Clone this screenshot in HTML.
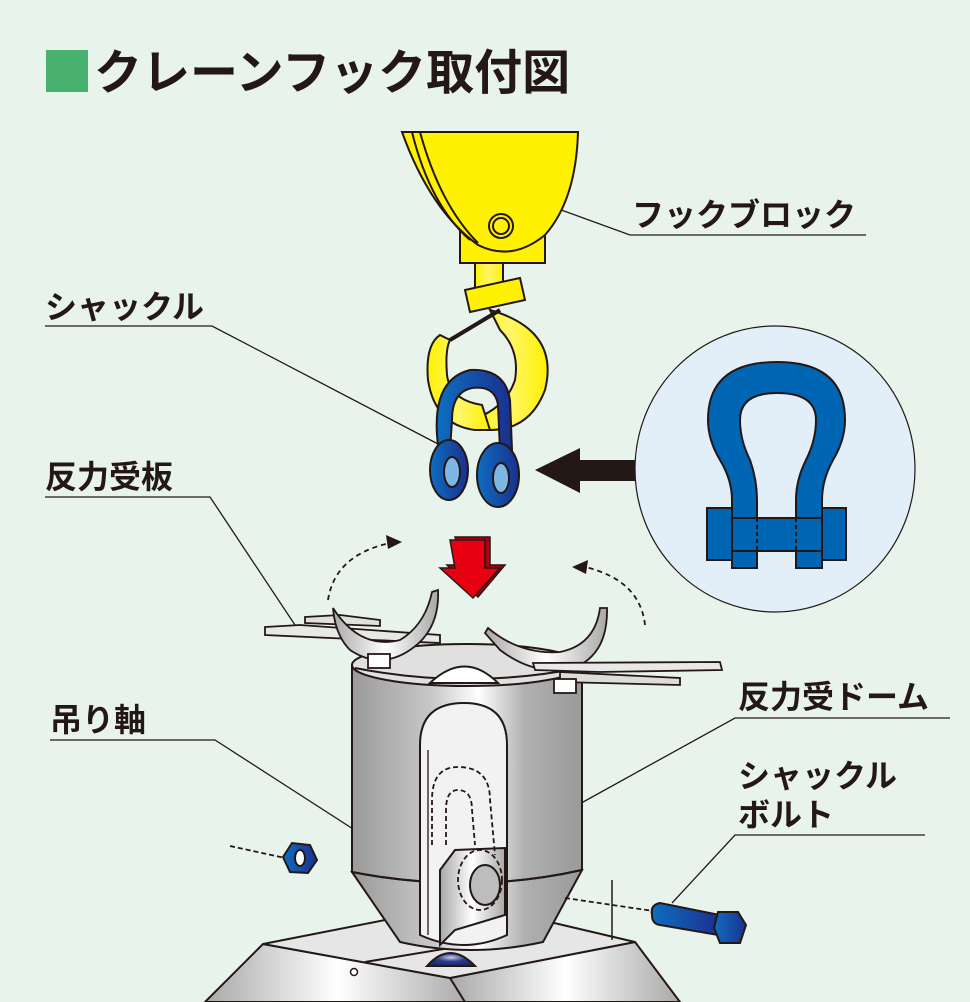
<!DOCTYPE html>
<html><head><meta charset="utf-8"><style>
html,body{margin:0;padding:0;background:#e8f3ec;}
svg{display:block}
text{font-family:"Liberation Sans","Noto Sans CJK JP",sans-serif;fill:#231815;}
</style></head><body>
<svg width="970" height="1002" viewBox="0 0 970 1002" xmlns="http://www.w3.org/2000/svg">
<defs>
<linearGradient id="cyl" x1="0" x2="1" y1="0" y2="0">
<stop offset="0" stop-color="#9a9a9a"/><stop offset="0.35" stop-color="#c8c8c8"/><stop offset="0.55" stop-color="#ffffff"/><stop offset="0.75" stop-color="#b0b0b0"/><stop offset="1" stop-color="#9a9a9a"/></linearGradient>
<linearGradient id="met" x1="0" x2="1" y1="0" y2="0">
<stop offset="0" stop-color="#a8a8a8"/><stop offset="0.5" stop-color="#ffffff"/><stop offset="1" stop-color="#a8a8a8"/></linearGradient>
<linearGradient id="yel" x1="0" x2="1"><stop offset="0" stop-color="#fff100"/><stop offset="0.5" stop-color="#fff66a"/><stop offset="1" stop-color="#fff100"/></linearGradient>
<linearGradient id="blu" x1="0" x2="1"><stop offset="0" stop-color="#0e6ec0"/><stop offset="1" stop-color="#1b2f8e"/></linearGradient>
<radialGradient id="dome" cx="0.5" cy="0.35" r="0.6"><stop offset="0" stop-color="#c9cdea"/><stop offset="0.5" stop-color="#2c3d8e"/><stop offset="1" stop-color="#1c2a6a"/></radialGradient>
</defs>

<!-- Title -->
<rect x="46" y="50" width="42" height="42" fill="#47b26f"/>
<text x="94" y="89" font-size="48" font-weight="bold">クレーンフック取付図</text>

<!-- labels -->
<g stroke="#231815" stroke-width="1.3" fill="none">
<polyline points="520,195 630,235 866,235"/>
<polyline points="45,326 212,326 440,445"/>
<polyline points="45,497 210,497 295,625"/>
<polyline points="950,718 735,718 565,812"/>
<polyline points="50,740 215,740 440,885"/>
<polyline points="925,835 735,835 672,903"/>
</g>
<text x="632" y="226" font-size="32" font-weight="bold">フックブロック</text>
<text x="45" y="318" font-size="32" font-weight="bold">シャックル</text>
<text x="45" y="488" font-size="32" font-weight="bold">反力受板</text>
<text x="738" y="708" font-size="32" font-weight="bold">反力受ドーム</text>
<text x="50" y="731" font-size="32" font-weight="bold">吊り軸</text>
<text x="738" y="787" font-size="32" font-weight="bold">シャックル</text>
<text x="738" y="826" font-size="32" font-weight="bold">ボルト</text>

<!-- hook block -->
<g stroke="#231815" stroke-width="2">
<rect x="460" y="228" width="85" height="35" fill="#fff100"/>
<path d="M402,132 L578,132 Q576,200 545,235 Q512,262 478,245 Q430,210 402,132 Z" fill="#fff100"/>
<path d="M412,132 Q430,205 470,240" fill="none"/>
<path d="M420,132 Q440,205 478,243" fill="none"/>
<circle cx="501" cy="226" r="12" fill="#fff100"/><circle cx="501" cy="226" r="8" fill="none"/>
<rect x="475" y="263" width="28" height="30" fill="url(#yel)"/>
<path d="M465,290 L520,278 L525,300 L470,312 Z" fill="#fff100"/>
<path d="M490,310 Q560,330 545,390 Q530,430 490,430 L470,420 Q505,410 515,380 Q520,350 500,330 Z" fill="url(#yel)"/>
<path d="M450,340 L500,310" fill="none" stroke-width="4"/>
<path d="M440,335 Q425,345 428,380 Q435,425 475,430 L490,430 L482,405 Q450,400 447,375 Q445,350 450,340 Z" fill="url(#yel)"/>
</g>
<!-- shackle on hook -->
<g stroke="#231815" stroke-width="2">
<path d="M438,445 Q430,380 470,370 Q505,368 510,400 L512,450 L500,450 L498,405 Q495,385 472,388 Q452,392 452,420 L450,450 Z" fill="url(#blu)"/>
<ellipse cx="449" cy="470" rx="19" ry="30" fill="url(#blu)"/>
<ellipse cx="498" cy="475" rx="21" ry="32" fill="url(#blu)"/>
<ellipse cx="452" cy="472" rx="8" ry="15" fill="#7fb7e4"/>
<ellipse cx="501" cy="478" rx="8" ry="15" fill="#7fb7e4"/>
</g>
<!-- black arrow -->
<polygon points="635,460 580,460 580,448 535,470 580,493 580,481 635,481" fill="#231815"/>

<!-- inset circle -->
<ellipse cx="775" cy="469" rx="140" ry="143" fill="#e2eff8" stroke="#231815" stroke-width="1.2"/>
<g stroke="#231815" stroke-width="2" fill="#0066b3">
<path d="M732,568 L732,500 Q732,480 720,460 Q708,440 708,420 Q708,362 777,362 Q845,362 845,420 Q845,440 833,460 Q822,480 822,500 L822,568 L796,568 L796,500 Q796,480 806,460 Q816,440 816,420 Q816,393 777,393 Q740,393 740,420 Q740,440 750,460 Q757,480 757,500 L757,568 Z"/>
<rect x="707" y="508" width="25" height="52"/>
<rect x="822" y="508" width="24" height="52"/>
<rect x="732" y="518" width="90" height="33"/>
<path d="M757,518 V551 M796,518 V551" fill="none" stroke-dasharray="4,3"/>
</g>

<!-- red arrow -->
<polygon points="455,537 490,537 490,565 505,565 478,597 447,565 463,565" fill="#a9000f" stroke="#231815" stroke-width="1.5"/>
<polygon points="450,540 485,540 485,568 500,568 473,598 440,568 455,568" fill="#e60012" stroke="#231815" stroke-width="1.5"/>

<!-- dashed rotation arrows -->
<g fill="none" stroke="#231815" stroke-width="1.8" stroke-dasharray="5,4">
<path d="M328,600 Q335,555 390,543"/>
<path d="M645,625 Q640,580 585,567"/>
</g>
<polygon points="402,542 386,535 388,549" fill="#231815"/>
<polygon points="572,567 588,560 586,574" fill="#231815"/>

<!-- base -->
<g stroke="#231815" stroke-width="2">
<polygon points="263,944 205,1002 470,1002 450,978" fill="url(#met)"/>
<polygon points="450,978 635,942 680,1002 465,1002" fill="url(#met)"/>
<polygon points="263,944 385,920 550,922 635,942 450,978" fill="#e6e6e6"/>
<line x1="365" y1="962" x2="540" y2="933"/>
</g>
<circle cx="354" cy="972" r="3.5" fill="#fff" stroke="#231815" stroke-width="1.5"/>

<!-- cylinder -->
<g stroke="#231815" stroke-width="2">
<path d="M352,872 L400,942 Q470,958 543,942 L582,870 Z" fill="url(#cyl)"/>
<path d="M352,665 L352,872 Q470,895 582,870 L582,665 Z" fill="url(#cyl)"/>
<ellipse cx="467" cy="665" rx="115" ry="21" fill="#e0e0e0"/>
<path d="M355,668 Q467,690 580,668" fill="none"/>
<path d="M430,683 Q465,650 498,683 Z" fill="#fff"/>
<path d="M352,872 Q470,895 582,870" fill="none"/>
<path d="M420,935 L420,745 Q420,703 464,703 Q507,703 507,745 L507,935 Q464,955 420,935 Z" fill="#f2f2f2"/>
<path d="M428,935 L428,750" fill="none" stroke-width="1.3"/>
<path d="M440,945 L440,870 L455,850 L505,848 L505,915 L455,930 Z" fill="url(#met)"/>
<ellipse cx="485" cy="885" rx="15" ry="20" fill="#bdbdbd"/>
</g>
<g fill="none" stroke="#231815" stroke-width="1.8" stroke-dasharray="5,3">
<path d="M432,845 L432,800 Q432,767 458,767 Q490,767 490,800 L495,855"/>
<path d="M446,845 L446,810 Q446,790 458,790 Q472,790 472,810 L475,845"/>
<ellipse cx="480" cy="880" rx="22" ry="30"/>
<path d="M230,846 L285,858"/>
<path d="M565,898 L660,912"/>
</g>
<line x1="612" y1="880" x2="612" y2="940" stroke="#231815" stroke-width="1.5"/>

<!-- reaction plates -->
<g stroke="#231815" stroke-width="1.8">
<polygon points="265,627 300,625 440,635 440,643 265,635" fill="#e8e8e8"/>
<polygon points="305,617 340,615 380,620 380,626 305,623" fill="#e0e0e0"/>
<path d="M333,608 Q360,650 400,640 Q425,625 432,592 L438,590 Q440,630 410,650 Q380,670 350,650 Q335,635 333,608 Z" fill="url(#met)"/>
<path d="M488,628 Q520,655 560,652 Q595,645 600,608 L607,608 Q608,650 580,665 Q540,680 500,650 L485,633 Z" fill="url(#met)"/>
<polygon points="533,663 720,662 722,670 600,672 535,670" fill="#e8e8e8"/>
<polygon points="560,672 680,678 680,685 560,682" fill="#dcdcdc"/>
<rect x="368" y="654" width="22" height="14" fill="#fff"/>
<rect x="554" y="679" width="22" height="14" fill="#fff"/>
</g>

<!-- nut, bolt, dome -->
<g stroke="#231815" stroke-width="2">
<polygon points="283,857 292,843 310,845 317,860 308,873 290,872" fill="url(#blu)"/>
<ellipse cx="300" cy="858" rx="5" ry="8" fill="#fff"/>
<path d="M652,915 Q650,905 660,903 L720,915 L718,935 L660,925 Q652,924 652,915 Z" fill="url(#blu)"/>
<polygon points="718,912 738,912 746,925 740,943 720,943 714,928" fill="url(#blu)"/>
<path d="M427,966 Q450,940 475,966 Z" fill="url(#dome)"/>
</g>
</svg>
</body></html>
